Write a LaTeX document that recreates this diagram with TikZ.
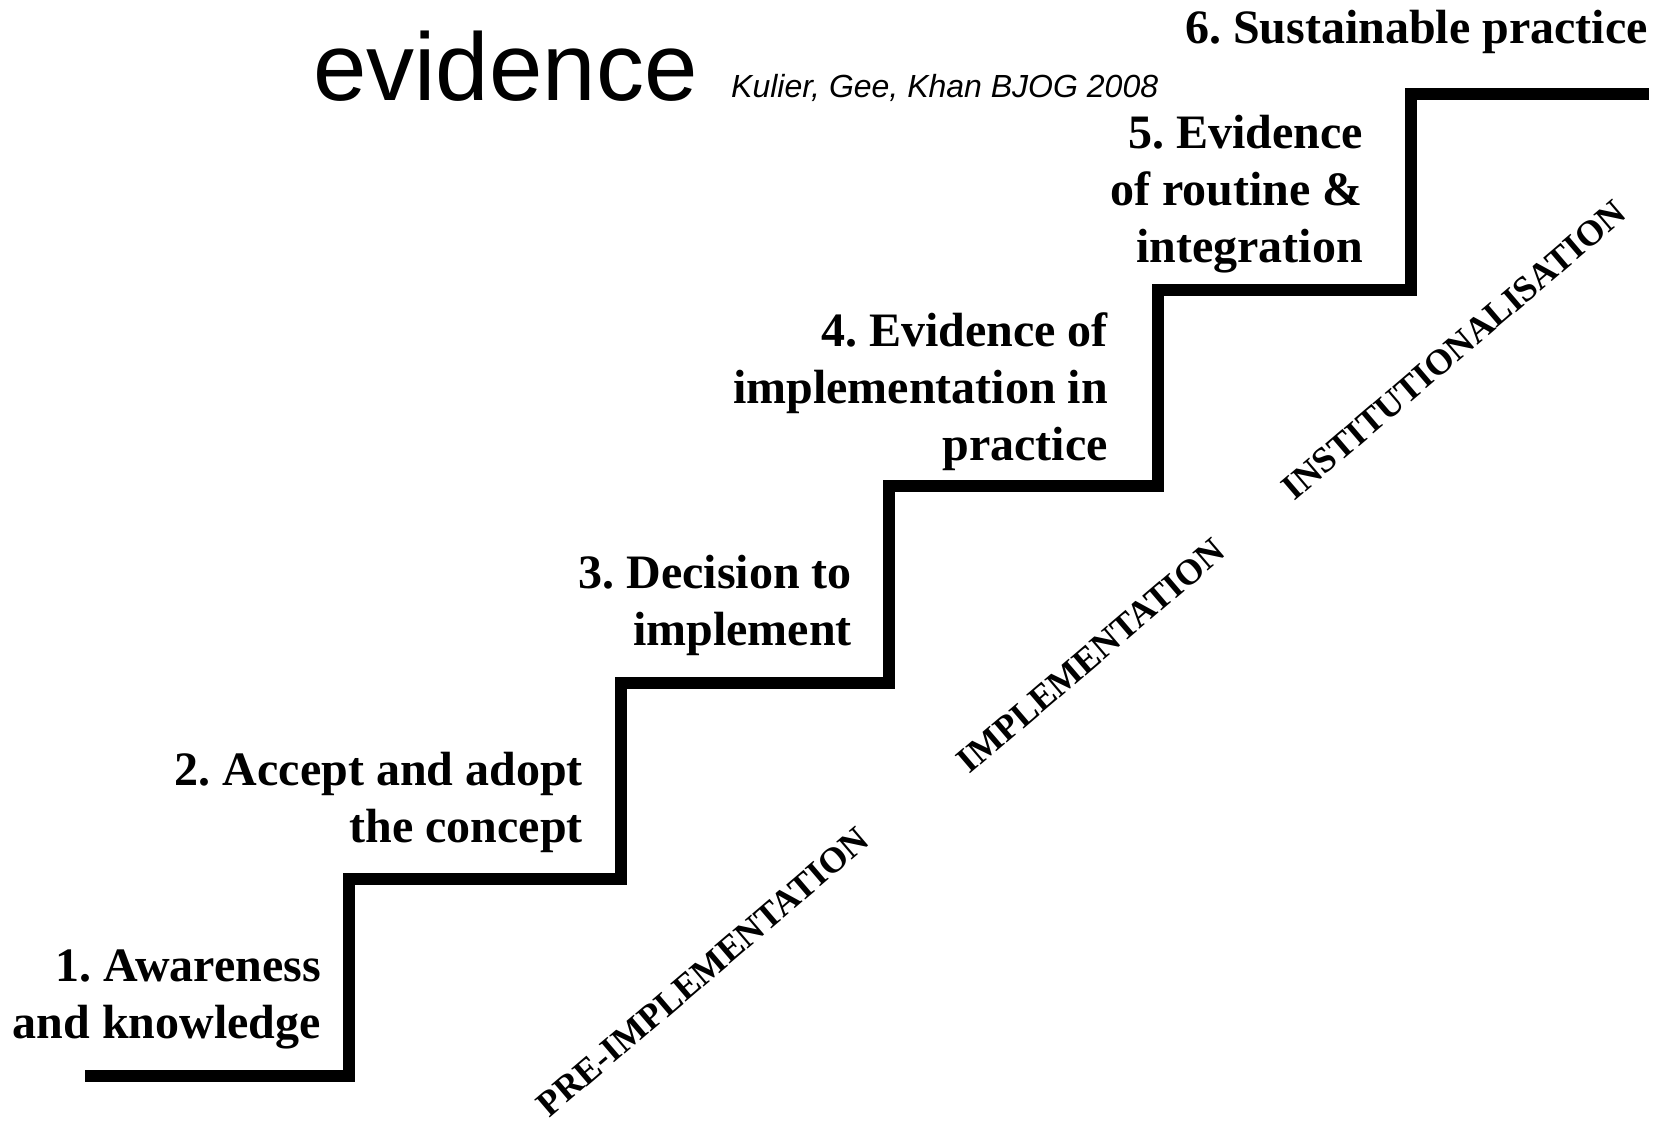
\documentclass[tikz,border=0pt]{standalone}
\usepackage{fontspec}
\setmainfont{Liberation Serif}
\newfontfamily\arialfont{Liberation Sans}
\frenchspacing
\begin{document}
\frenchspacing
\begin{tikzpicture}[x=1pt,y=-1pt,
  stair/.style={line width=12pt,line join=miter,line cap=butt,black},
  steplabel/.style={anchor=base east,inner sep=0pt,align=right,
    font=\fontsize{48}{57}\selectfont\bfseries},
  phaselabel/.style={inner sep=0pt,rotate=40.5,
    font=\fontsize{36}{40}\selectfont\bfseries}]
\useasboundingbox (0,0) rectangle (1663,1122);
\fill[white] (0,0) rectangle (1663,1122);

% staircase
\coordinate (p0) at (85,1076);
\coordinate (p1) at (349,1076);
\coordinate (p2) at (349,879);
\coordinate (p3) at (621,879);
\coordinate (p4) at (621,683);
\coordinate (p5) at (889,683);
\coordinate (p6) at (889,486);
\coordinate (p7) at (1158,486);
\coordinate (p8) at (1158,290);
\coordinate (p9) at (1411,290);
\coordinate (p10) at (1411,94);
\coordinate (p11) at (1649,94);
\draw[stair] (p0) -- (p1) -- (p2) -- (p3) -- (p4) -- (p5) -- (p6) -- (p7) -- (p8) -- (p9) -- (p10) -- (p11);

% title
\node[anchor=base west,inner sep=0pt,font=\arialfont\fontsize{96}{100}\selectfont] (title) at (313,100) {evidence};
\node[anchor=base west,inner sep=0pt,font=\arialfont\itshape\fontsize{32}{36}\selectfont] (cite) at (731,97) {Kulier, Gee, Khan BJOG 2008};

% step labels
\node[steplabel] (s1) at (321,1038) {1. Awareness\\and knowledge};
\node[steplabel] (s2) at (583,842) {2. Accept and adopt\\the concept};
\node[steplabel] (s3) at (852,645) {3. Decision to\\implement};
\node[steplabel] (s4) at (1108,460) {4. Evidence of\\implementation in\\practice};
\node[steplabel] (s5) at (1363,262) {5. Evidence\\of routine \&\\integration};
\node[steplabel] (s6) at (1648,43) {6. Sustainable practice};

% phase labels
\node[phaselabel] (ph1) at (703,972) {PRE-IMPLEMENTATION};
\node[phaselabel] (ph2) at (1091,656) {IMPLEMENTATION};
\node[phaselabel] (ph3) at (1454,350) {INSTITUTIONALISATION};
\end{tikzpicture}
\end{document}
